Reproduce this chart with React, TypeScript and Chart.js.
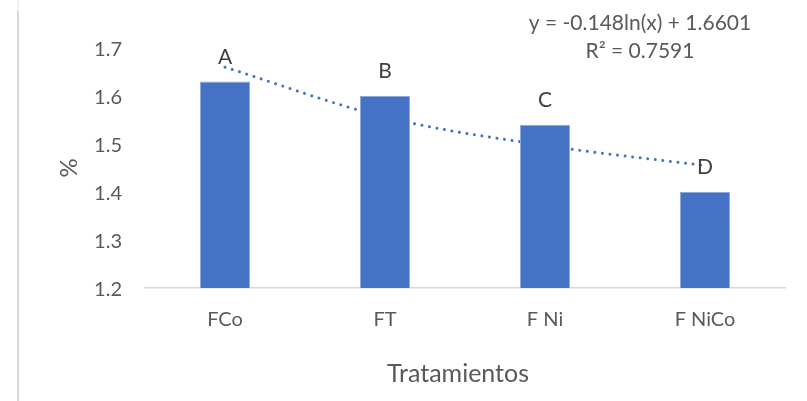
import React, { useEffect, useRef } from "react";
import { Chart, registerables } from "chart.js";

Chart.register(...registerables);

const categories = ["FCo", "FT", "F Ni", "F NiCo"];
const values = [1.63, 1.6, 1.54, 1.4];
const letters = ["A", "B", "C", "D"];
const trendValues = [1.66, 1.556, 1.497, 1.455];
const yTicks = [1.2, 1.3, 1.4, 1.5, 1.6, 1.7];
const equationLines = ["y = -0.148ln(x) + 1.6601", "R\u00B2 = 0.7591"];
const xTitle = "Tratamientos";
const yTitle = "%";

const FONT = "Lato, 'Open Sans', sans-serif";
const TEXT = "#595959";
const BLUE = "#4472C4";

const extrasPlugin = {
  id: "extras",
  beforeDraw(chart: any) {
    const ctx = chart.ctx;
    ctx.save();
    ctx.fillStyle = "#d9d9d9";
    ctx.fillRect(17, 11, 2, chart.height - 11);
    ctx.fillStyle = "#f2f2f2";
    ctx.fillRect(17, 0, 2, 11);
    ctx.restore();
  },
  afterDatasetsDraw(chart: any) {
    const ctx = chart.ctx;
    const meta = chart.getDatasetMeta(0);
    ctx.save();
    ctx.font = `21px ${FONT}`;
    ctx.fillStyle = "#404040";
    ctx.textAlign = "center";
    ctx.textBaseline = "alphabetic";
    meta.data.forEach((el: any, i: number) => {
      ctx.fillText(letters[i], el.x, el.y - 18);
    });
    ctx.restore();
  },
  afterDraw(chart: any) {
    const ctx = chart.ctx;
    ctx.save();
    ctx.font = `21px ${FONT}`;
    ctx.fillStyle = TEXT;
    ctx.textAlign = "center";
    ctx.textBaseline = "alphabetic";
    equationLines.forEach((line, i) => {
      ctx.fillText(line, 640, 30 + i * 28);
    });
    ctx.font = `25px ${FONT}`;
    ctx.fillText(xTitle, 458, 382);
    ctx.restore();
  },
};

export default function App() {
  const ref = useRef<HTMLCanvasElement | null>(null);

  useEffect(() => {
    if (!ref.current) return;
    const chart = new Chart(ref.current, {
      type: "bar",
      data: {
        labels: categories,
        datasets: [
          {
            type: "bar",
            data: values,
            backgroundColor: BLUE,
            borderColor: "#8FA9DC",
            borderWidth: 1,
            barPercentage: 0.3125,
            categoryPercentage: 1,
            order: 1,
          },
          {
            type: "line",
            data: trendValues,
            borderColor: BLUE,
            borderWidth: 3,
            borderDash: [0.01, 7.6],
            borderCapStyle: "round",
            cubicInterpolationMode: "monotone",
            pointRadius: 0,
            fill: false,
            order: 2,
          } as any,
        ],
      },
      options: {
        animation: false,
        responsive: false,
        events: [],
        layout: { padding: { left: 0, top: 48, right: 22, bottom: 0 } },
        plugins: {
          legend: { display: false },
          tooltip: { enabled: false },
          title: { display: false },
        },
        scales: {
          x: {
            offset: true,
            grid: { display: false, drawTicks: false },
            border: { display: true, color: "#d9d9d9", width: 1.5 },
            ticks: {
              color: TEXT,
              font: { family: FONT, size: 20 },
              padding: 20,
            },
            title: { display: false, text: xTitle },
            afterFit: (s: any) => {
              s.height = 113;
            },
          },
          y: {
            min: 1.2,
            max: 1.7,
            grid: { display: false, drawTicks: false },
            border: { display: false },
            afterBuildTicks: (s: any) => {
              s.ticks = yTicks.map((v) => ({ value: v }));
            },
            ticks: {
              color: TEXT,
              font: { family: FONT, size: 20 },
              padding: 23,
              labelOffset: 1.5,
              callback: (v: any) => Number(v).toFixed(1),
            },
            title: {
              display: true,
              text: yTitle,
              color: TEXT,
              font: { family: FONT, size: 24 },
              padding: { top: 55, bottom: 0 },
            },
            afterFit: (s: any) => {
              s.width = 145;
            },
          },
        },
      },
      plugins: [extrasPlugin],
    });
    return () => chart.destroy();
  }, []);

  return (
    <div style={{ position: "fixed", left: 0, top: 0, width: 807, height: 401, background: "#fff" }}>
      <canvas ref={ref} width={807} height={401} style={{ display: "block" }} />
    </div>
  );
}
